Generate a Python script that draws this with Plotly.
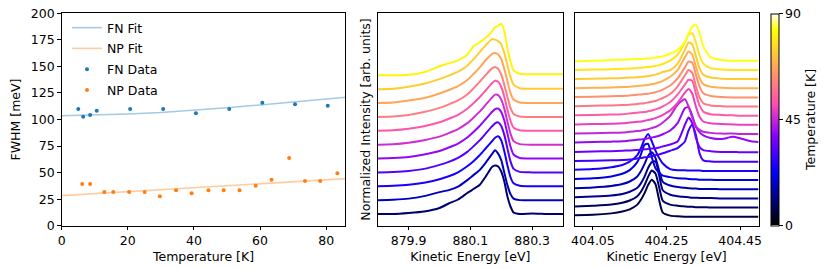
import plotly.graph_objects as go
from plotly.colors import sample_colorscale

# ---------------- left panel data ----------------
FN_T = [5.0, 6.5, 8.6, 10.6, 20.7, 30.7, 40.6, 50.7, 60.7, 70.6, 80.5]
FN_FWHM = [109.9, 102.6, 104.2, 108.3, 109.9, 109.9, 105.8, 109.9, 115.8, 114.3, 113.0]
NP_T = [6.2, 8.6, 12.9, 15.6, 20.4, 25.1, 29.7, 34.6, 39.3, 44.4, 49.0, 53.8, 58.7, 63.5, 68.8, 73.6, 78.2, 83.4]
NP_FWHM = [39.3, 39.3, 31.7, 31.7, 31.7, 31.7, 27.7, 33.3, 30.5, 33.3, 33.3, 33.3, 37.7, 43.3, 63.7, 42.1, 42.1, 49.3]
FN_FIT_T = [0, 10, 20, 30, 40, 50, 60, 70, 80, 86]
FN_FIT = [103.6, 104.1, 105.2, 106.6, 108.5, 111.0, 113.7, 116.6, 119.3, 120.9]
NP_FIT_T = [0, 20, 40, 60, 86]
NP_FIT = [28.3, 32.0, 35.8, 39.5, 44.3]

# ---------------- middle panel (FN spectra) ----------------
E_FN = [879.80, 879.85, 879.90, 879.95, 880.00, 880.03, 880.06, 880.09, 880.11, 880.13, 880.15,
        880.17, 880.18, 880.19, 880.20, 880.21, 880.22, 880.23, 880.24, 880.26, 880.30, 880.35, 880.40]
FN_S0 = [0.00, 0.00, 0.02, 0.05, 0.12, 0.21, 0.29, 0.42, 0.50, 0.58, 0.75, 0.94, 0.97, 0.95, 0.85, 0.65, 0.35, 0.15, 0.03, 0.00, 0.01, 0.00, 0.00]
FN_S1 = [0.00, 0.01, 0.03, 0.08, 0.16, 0.20, 0.27, 0.40, 0.50, 0.60, 0.75, 0.92, 1.00, 0.93, 0.80, 0.55, 0.30, 0.12, 0.03, 0.00, 0.00, 0.00, 0.00]
FN_S2 = [0.00, 0.01, 0.03, 0.07, 0.14, 0.20, 0.28, 0.40, 0.50, 0.62, 0.76, 0.90, 0.97, 1.00, 0.92, 0.70, 0.42, 0.18, 0.06, 0.01, 0.00, 0.00, 0.00]
FN_S3 = [0.00, 0.01, 0.03, 0.07, 0.15, 0.21, 0.29, 0.41, 0.52, 0.64, 0.78, 0.92, 0.98, 1.00, 0.93, 0.75, 0.48, 0.22, 0.07, 0.01, 0.00, 0.00, 0.00]
FN_S4 = [0.00, 0.01, 0.03, 0.08, 0.15, 0.22, 0.30, 0.42, 0.53, 0.65, 0.79, 0.93, 0.99, 1.00, 0.93, 0.76, 0.50, 0.24, 0.08, 0.01, 0.00, 0.00, 0.00]
FN_S5 = [0.00, 0.01, 0.04, 0.09, 0.16, 0.23, 0.31, 0.43, 0.54, 0.66, 0.80, 0.94, 1.00, 0.99, 0.90, 0.72, 0.46, 0.22, 0.07, 0.01, 0.00, 0.00, 0.00]
FN_S6 = [0.00, 0.01, 0.04, 0.09, 0.17, 0.24, 0.32, 0.44, 0.55, 0.67, 0.81, 0.95, 1.00, 0.98, 0.88, 0.68, 0.42, 0.20, 0.06, 0.01, 0.00, 0.00, 0.00]
FN_S7 = [0.00, 0.01, 0.04, 0.10, 0.18, 0.25, 0.33, 0.45, 0.57, 0.70, 0.84, 0.97, 1.00, 0.96, 0.85, 0.64, 0.40, 0.18, 0.06, 0.01, 0.00, 0.00, 0.00]
FN_S8 = [0.00, 0.01, 0.05, 0.10, 0.19, 0.26, 0.34, 0.46, 0.58, 0.71, 0.86, 0.98, 1.00, 0.97, 0.88, 0.68, 0.44, 0.20, 0.07, 0.01, 0.00, 0.00, 0.00]
FN_S9 = [0.00, 0.01, 0.05, 0.11, 0.20, 0.27, 0.35, 0.47, 0.60, 0.74, 0.88, 1.00, 0.99, 0.96, 0.90, 0.72, 0.48, 0.24, 0.09, 0.02, 0.01, 0.01, 0.01]
FN_S10 = [0.00, 0.00, 0.01, 0.06, 0.18, 0.24, 0.30, 0.41, 0.58, 0.66, 0.75, 0.88, 0.96, 0.99, 1.03, 0.88, 0.55, 0.28, 0.10, 0.03, 0.02, 0.02, 0.02]
FN_SPECTRA = [FN_S0, FN_S1, FN_S2, FN_S3, FN_S4, FN_S5, FN_S6, FN_S7, FN_S8, FN_S9, FN_S10]
FN_SPECTRA_T = [10, 17, 25, 32, 39, 46, 53, 60, 67, 74, 81]

# ---------------- right panel (NP spectra) ----------------
E_NP = [404.00, 404.05, 404.10, 404.13, 404.15, 404.17, 404.18, 404.19, 404.20, 404.21, 404.22, 404.23, 404.24,
        404.26, 404.28, 404.30, 404.31, 404.32, 404.33, 404.34, 404.35, 404.37, 404.40, 404.43, 404.45, 404.48, 404.50]
NP_S0 = [0.04, 0.05, 0.09, 0.14, 0.20, 0.32, 0.45, 0.63, 0.86, 1.00, 0.88, 0.45, 0.11, 0.03, 0.01, 0.00, 0.00, 0.00, 0.00, 0.00, 0.00, 0.00, 0.00, 0.00, 0.00, 0.00, 0.00]
NP_S1 = [0.03, 0.05, 0.08, 0.13, 0.19, 0.30, 0.42, 0.60, 0.83, 1.00, 0.92, 0.55, 0.18, 0.08, 0.05, 0.03, 0.02, 0.02, 0.01, 0.01, 0.01, 0.00, 0.00, 0.00, 0.00, 0.00, 0.00]
NP_S2 = [0.03, 0.05, 0.08, 0.12, 0.18, 0.28, 0.40, 0.58, 0.82, 0.98, 1.00, 0.62, 0.22, 0.10, 0.06, 0.04, 0.03, 0.02, 0.02, 0.01, 0.01, 0.01, 0.00, 0.00, 0.00, 0.00, 0.00]
NP_S3 = [0.03, 0.05, 0.09, 0.14, 0.21, 0.34, 0.48, 0.68, 0.90, 1.00, 0.85, 0.50, 0.20, 0.10, 0.06, 0.04, 0.03, 0.02, 0.02, 0.01, 0.01, 0.01, 0.00, 0.00, 0.00, 0.00, 0.00]
NP_S4 = [0.03, 0.05, 0.10, 0.17, 0.27, 0.48, 0.68, 0.95, 0.98, 0.62, 0.32, 0.20, 0.12, 0.08, 0.05, 0.04, 0.03, 0.02, 0.02, 0.01, 0.01, 0.01, 0.00, 0.00, 0.00, 0.00, 0.00]
NP_S5 = [0.03, 0.05, 0.10, 0.16, 0.25, 0.42, 0.60, 0.85, 1.00, 0.80, 0.55, 0.35, 0.20, 0.05, 0.02, 0.02, 0.01, 0.01, 0.01, 0.01, 0.00, 0.00, 0.00, 0.00, 0.00, 0.00, 0.00]
NP_S6 = [0.02, 0.03, 0.04, 0.05, 0.06, 0.09, 0.10, 0.12, 0.13, 0.15, 0.18, 0.20, 0.23, 0.30, 0.37, 0.55, 0.85, 1.00, 0.72, 0.22, 0.04, 0.01, 0.00, 0.00, 0.00, 0.00, 0.00]
NP_S7 = [0.02, 0.03, 0.04, 0.05, 0.06, 0.07, 0.08, 0.09, 0.10, 0.11, 0.12, 0.14, 0.17, 0.22, 0.30, 0.75, 0.95, 0.80, 0.40, 0.15, 0.07, 0.04, 0.02, 0.02, 0.01, 0.01, 0.01]
NP_S8 = [0.03, 0.04, 0.05, 0.06, 0.08, 0.10, 0.11, 0.12, 0.14, 0.16, 0.18, 0.21, 0.25, 0.35, 0.55, 0.95, 0.98, 0.75, 0.45, 0.30, 0.22, 0.15, 0.12, 0.18, 0.14, 0.06, 0.04]
NP_S9 = [0.02, 0.03, 0.04, 0.05, 0.07, 0.09, 0.10, 0.12, 0.14, 0.17, 0.20, 0.25, 0.32, 0.50, 0.80, 0.95, 0.75, 0.45, 0.22, 0.12, 0.07, 0.04, 0.02, 0.02, 0.01, 0.01, 0.01]
NP_S10 = [0.02, 0.03, 0.04, 0.05, 0.07, 0.09, 0.10, 0.12, 0.14, 0.16, 0.19, 0.23, 0.28, 0.40, 0.60, 0.88, 0.98, 0.85, 0.50, 0.22, 0.10, 0.05, 0.03, 0.02, 0.01, 0.01, 0.01]
NP_S11 = [0.02, 0.03, 0.04, 0.05, 0.07, 0.09, 0.10, 0.11, 0.13, 0.15, 0.18, 0.21, 0.26, 0.38, 0.58, 0.85, 0.98, 0.95, 0.60, 0.28, 0.12, 0.05, 0.03, 0.02, 0.01, 0.01, 0.01]
NP_S12 = [0.02, 0.03, 0.04, 0.05, 0.06, 0.08, 0.09, 0.10, 0.12, 0.14, 0.16, 0.20, 0.24, 0.35, 0.55, 0.85, 1.00, 0.92, 0.55, 0.25, 0.10, 0.04, 0.02, 0.01, 0.01, 0.01, 0.01]
NP_S13 = [0.02, 0.03, 0.04, 0.05, 0.06, 0.08, 0.09, 0.10, 0.11, 0.13, 0.15, 0.18, 0.22, 0.33, 0.52, 0.82, 0.98, 0.95, 0.62, 0.30, 0.12, 0.05, 0.02, 0.01, 0.01, 0.01, 0.01]
NP_S14 = [0.01, 0.02, 0.03, 0.04, 0.05, 0.07, 0.08, 0.09, 0.10, 0.12, 0.14, 0.17, 0.21, 0.32, 0.50, 0.85, 1.00, 0.92, 0.58, 0.28, 0.12, 0.05, 0.02, 0.01, 0.01, 0.01, 0.01]
NP_S15 = [0.01, 0.02, 0.03, 0.04, 0.05, 0.06, 0.07, 0.08, 0.09, 0.11, 0.13, 0.16, 0.20, 0.25, 0.42, 0.80, 1.00, 0.95, 0.62, 0.30, 0.13, 0.05, 0.02, 0.01, 0.01, 0.01, 0.01]
NP_S16 = [0.01, 0.02, 0.03, 0.04, 0.05, 0.06, 0.07, 0.08, 0.09, 0.10, 0.12, 0.14, 0.17, 0.26, 0.42, 0.75, 0.96, 1.00, 0.75, 0.40, 0.18, 0.06, 0.02, 0.01, 0.01, 0.01, 0.01]
NP_S17 = [0.00, 0.01, 0.03, 0.04, 0.05, 0.06, 0.06, 0.07, 0.07, 0.08, 0.10, 0.11, 0.13, 0.20, 0.30, 0.52, 0.75, 0.93, 0.98, 0.75, 0.40, 0.10, 0.03, 0.01, 0.01, 0.01, 0.01]
NP_SPECTRA = [NP_S0, NP_S1, NP_S2, NP_S3, NP_S4, NP_S5, NP_S6, NP_S7, NP_S8,
              NP_S9, NP_S10, NP_S11, NP_S12, NP_S13, NP_S14, NP_S15, NP_S16, NP_S17]
NP_SPECTRA_T = NP_T

# ---------------- style ----------------
FN_STEP = 0.2774
NP_STEP = 0.2473
T_MAX = 90
GNUPLOT2 = [[0.0, "rgb(0,0,0)"], [0.25, "rgb(0,0,255)"], [0.42, "rgb(135,0,255)"],
            [0.57, "rgb(255,77,178)"], [0.92, "rgb(255,255,0)"], [1.0, "rgb(255,255,255)"]]
BLUE = "#1f77b4"
ORANGE = "#ff7f0e"
FONT = "DejaVu Sans"
FS = 12.5

W, H = 830, 269
def fx(px):
    return px / W
def fy(py):
    return (H - py) / H

Y_DOM = [fy(225.7), fy(13.3)]

fig = go.Figure()

# Left panel
fig.add_trace(go.Scatter(x=FN_FIT_T, y=FN_FIT, mode="lines", name="FN Fit", legendgroup="g1",
                         line=dict(color="rgba(31,119,180,0.4)", width=1.6), xaxis="x", yaxis="y"))
fig.add_trace(go.Scatter(x=NP_FIT_T, y=NP_FIT, mode="lines", name="NP Fit", legendgroup="g2",
                         line=dict(color="rgba(255,127,14,0.4)", width=1.6), xaxis="x", yaxis="y"))
fig.add_trace(go.Scatter(x=FN_T, y=FN_FWHM, mode="markers", name="FN Data", legendgroup="g3",
                         marker=dict(color=BLUE, size=4), xaxis="x", yaxis="y"))
fig.add_trace(go.Scatter(x=NP_T, y=NP_FWHM, mode="markers", name="NP Data", legendgroup="g4",
                         marker=dict(color=ORANGE, size=4), xaxis="x", yaxis="y"))

# Middle panel
fn_cols = sample_colorscale(GNUPLOT2, [t / T_MAX for t in FN_SPECTRA_T])
for i, (s, c) in enumerate(zip(FN_SPECTRA, fn_cols)):
    fig.add_trace(go.Scatter(x=E_FN, y=[v + i * FN_STEP for v in s], mode="lines",
                             line=dict(color=c, width=2, shape="spline", smoothing=0.6),
                             showlegend=False, xaxis="x2", yaxis="y2", hoverinfo="skip"))

# Right panel
np_cols = sample_colorscale(GNUPLOT2, [t / T_MAX for t in NP_SPECTRA_T])
for i, (s, c) in enumerate(zip(NP_SPECTRA, np_cols)):
    fig.add_trace(go.Scatter(x=E_NP, y=[v + i * NP_STEP for v in s], mode="lines",
                             line=dict(color=c, width=2, shape="spline", smoothing=0.6),
                             showlegend=False, xaxis="x3", yaxis="y3", hoverinfo="skip"))

# colorbar carrier
fig.add_trace(go.Scatter(x=[None], y=[None], mode="markers", showlegend=False,
                         marker=dict(color=[0], coloraxis="coloraxis"), xaxis="x3", yaxis="y3"))

axis_common = dict(showline=True, linecolor="black", linewidth=1, mirror=True,
                   ticklen=3.5, tickwidth=1, tickcolor="black",
                   showgrid=False, zeroline=False, automargin=False,
                   tickfont=dict(family=FONT, size=FS, color="black"))

fig.update_layout(
    width=W, height=H,
    margin=dict(l=0, r=0, t=0, b=0),
    paper_bgcolor="white", plot_bgcolor="white",
    font=dict(family=FONT, size=FS, color="black"),
    xaxis=dict(domain=[fx(61.7), fx(345.3)], range=[0, 85.8], tickvals=[0, 20, 40, 60, 80], ticks="outside",
               title=dict(text="Temperature [K]", font=dict(size=FS), standoff=5), anchor="y", **axis_common),
    yaxis=dict(domain=Y_DOM, range=[0, 200], tickvals=[0, 25, 50, 75, 100, 125, 150, 175, 200], ticks="outside",
               title=dict(text="FWHM [meV]", font=dict(size=FS), standoff=7), anchor="x", **axis_common),
    xaxis2=dict(domain=[fx(377.7), fx(563)], range=[879.8, 880.4], tickvals=[879.9, 880.1, 880.3],
                ticktext=["879.9", "880.1", "880.3"], ticks="outside",
                title=dict(text="Kinetic Energy [eV]", font=dict(size=FS), standoff=5), anchor="y2", **axis_common),
    yaxis2=dict(domain=Y_DOM, range=[-0.234, 4.014], anchor="x2", showticklabels=False, ticks="",
                title=dict(text="Normalized Intensity [arb. units]", font=dict(size=FS), standoff=3),
                **axis_common),
    xaxis3=dict(domain=[fx(574.5), fx(758.5)], range=[404.0, 404.5], tickvals=[404.05, 404.25, 404.45],
                ticktext=["404.05", "404.25", "404.45"], ticks="outside",
                title=dict(text="Kinetic Energy [eV]", font=dict(size=FS), standoff=5), anchor="y3", **axis_common),
    yaxis3=dict(domain=Y_DOM, range=[-0.243, 5.497], anchor="x3", showticklabels=False, ticks="",
                **axis_common),
    coloraxis=dict(colorscale=GNUPLOT2, cmin=0, cmax=T_MAX,
                   colorbar=dict(x=fx(771), xanchor="left", xpad=0, ypad=0,
                                 y=(Y_DOM[0] + Y_DOM[1]) / 2, yanchor="middle",
                                 len=Y_DOM[1] - Y_DOM[0], lenmode="fraction", thickness=8,
                                 outlinewidth=1, outlinecolor="black",
                                 tickvals=[0, 45, 90], ticks="outside", ticklen=3.5, tickcolor="black",
                                 tickfont=dict(family=FONT, size=FS, color="black"),
                                 title=dict(text="Temperature [K]", side="right",
                                            font=dict(family=FONT, size=FS, color="black")))),
    legend=dict(x=fx(67), y=fy(13), xanchor="left", yanchor="top", bgcolor="rgba(0,0,0,0)",
                font=dict(family=FONT, size=FS, color="black"), tracegroupgap=1.5, itemwidth=30),
)

fig.write_html("out.html", config={"displayModeBar": False},
               post_script="document.body.style.margin='0';document.body.style.padding='0';")
